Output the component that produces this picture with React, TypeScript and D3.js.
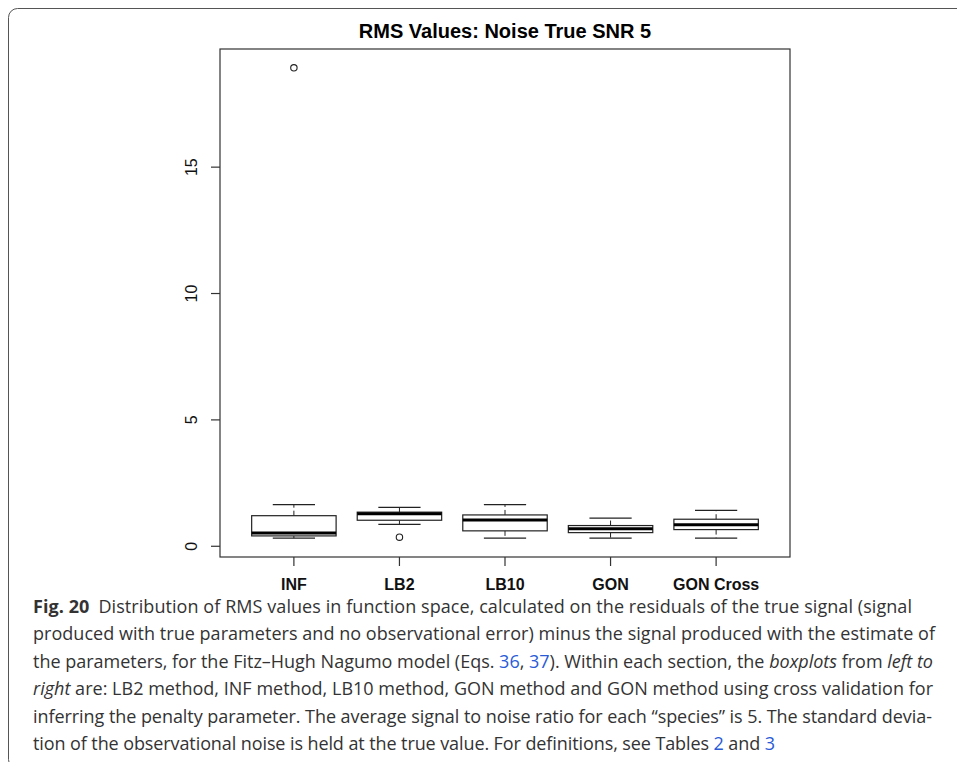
import React from "react";
import * as d3 from "d3";

const categories = ["INF", "LB2", "LB10", "GON", "GON Cross"];
const whiskerLow = [0.32, 0.87, 0.32, 0.32, 0.32];
const q1 = [0.41, 1.03, 0.61, 0.54, 0.66];
const median = [0.53, 1.29, 1.04, 0.69, 0.85];
const q3 = [1.21, 1.35, 1.24, 0.82, 1.07];
const whiskerHigh = [1.65, 1.54, 1.65, 1.11, 1.42];
const outliers = [[18.93], [0.36], [], [], []];
const yTicks = [0, 5, 10, 15];
const title = "RMS Values: Noise True SNR 5";

type Seg = { t: string; w?: "bold"; i?: boolean; link?: boolean; dx?: number };
const captionLines: Seg[][] = [
  [
    { t: "Fig. 20", w: "bold" },
    { t: "Distribution of RMS values in function space, calculated on the residuals of the true signal (signal", dx: 9 },
  ],
  [{ t: "produced with true parameters and no observational error) minus the signal produced with the estimate of" }],
  [
    { t: "the parameters, for the Fitz–Hugh Nagumo model (Eqs. " },
    { t: "36", link: true },
    { t: ", " },
    { t: "37", link: true },
    { t: "). Within each section, the " },
    { t: "boxplots", i: true },
    { t: " from " },
    { t: "left to", i: true },
  ],
  [
    { t: "right", i: true },
    { t: " are: LB2 method, INF method, LB10 method, GON method and GON method using cross validation for" },
  ],
  [{ t: "inferring the penalty parameter. The average signal to noise ratio for each \u201cspecies\u201d is 5. The standard devia-" }],
  [
    { t: "tion of the observational noise is held at the true value. For definitions, see Tables " },
    { t: "2", link: true },
    { t: " and " },
    { t: "3", link: true },
  ],
];
const captionWidths = [879, 902, 900, 900, 899, 742];

export default function App() {
  const left = 220, right = 790, top = 49, bottom = 557;
  const x = d3.scaleLinear().domain([0.3, categories.length + 0.7]).range([left, right]);
  const allVals = [...whiskerLow, ...whiskerHigh, ...outliers.flat()];
  const [mn, mx] = d3.extent(allVals) as [number, number];
  const pad = (mx - mn) * 0.04;
  const y = d3.scaleLinear().domain([mn - pad, mx + pad]).range([bottom, top]);
  const unit = x(2) - x(1);
  const bw = unit * 0.8;
  const cw = bw / 2;
  const ink = "#222";

  return (
    <svg
      width={957}
      height={762}
      style={{ position: "absolute", left: 0, top: 0, display: "block", background: "#fff" }}
    >
      <rect x={8.5} y={8.5} width={1000} height={760} rx={9} fill="none" stroke="#555" strokeWidth={1} />
      <text
        x={(left + right) / 2}
        y={38}
        textAnchor="middle"
        fontFamily="Liberation Sans, Arial, sans-serif"
        fontWeight="bold"
        fontSize={20}
        fill="#000"
      >
        {title}
      </text>
      <rect x={left} y={top} width={right - left} height={bottom - top} fill="none" stroke="#333" strokeWidth={1.2} />
      {yTicks.map((t) => (
        <g key={t}>
          <line x1={left - 9} x2={left} y1={y(t)} y2={y(t)} stroke="#333" strokeWidth={1.2} />
          <text
            transform={`translate(${197},${y(t)}) rotate(-90)`}
            textAnchor="middle"
            fontFamily="Liberation Sans, Arial, sans-serif"
            fontSize={16}
            fill="#111"
          >
            {t}
          </text>
        </g>
      ))}
      {categories.map((c, i) => {
        const cx = x(i + 1);
        return (
          <g key={c}>
            <line x1={cx} x2={cx} y1={bottom} y2={bottom + 9} stroke="#333" strokeWidth={1.2} />
            <text
              x={cx}
              y={590}
              textAnchor="middle"
              fontFamily="Liberation Sans, Arial, sans-serif"
              fontWeight="bold"
              fontSize={16}
              fill="#111"
            >
              {c}
            </text>
            <line x1={cx} x2={cx} y1={y(q3[i])} y2={y(whiskerHigh[i])} stroke={ink} strokeDasharray="5,3" />
            <line x1={cx} x2={cx} y1={y(q1[i])} y2={y(whiskerLow[i])} stroke={ink} strokeDasharray="5,3" />
            <line x1={cx - cw / 2} x2={cx + cw / 2} y1={y(whiskerHigh[i])} y2={y(whiskerHigh[i])} stroke={ink} strokeWidth={1.2} />
            <line x1={cx - cw / 2} x2={cx + cw / 2} y1={y(whiskerLow[i])} y2={y(whiskerLow[i])} stroke={ink} strokeWidth={1.2} />
            <rect
              x={cx - bw / 2}
              y={y(q3[i])}
              width={bw}
              height={y(q1[i]) - y(q3[i])}
              fill="#fff"
              stroke={ink}
              strokeWidth={1.2}
            />
            <line x1={cx - bw / 2} x2={cx + bw / 2} y1={y(median[i])} y2={y(median[i])} stroke="#000" strokeWidth={3} />
            {outliers[i].map((o, k) => (
              <circle key={k} cx={cx} cy={y(o)} r={3.2} fill="none" stroke={ink} strokeWidth={1.1} />
            ))}
          </g>
        );
      })}
      {captionLines.map((segs, li) => (
        <text
          key={li}
          x={33}
          y={613 + li * 27.4}
          fontFamily="Open Sans, Noto Sans, sans-serif"
          fontSize={18}
          fill="#333"
          textLength={captionWidths[li]}
          lengthAdjust="spacing"
        >
          {segs.map((s, k) => (
            <tspan
              key={k}
              dx={s.dx}
              fontWeight={s.w === "bold" ? "bold" : undefined}
              fontStyle={s.i ? "italic" : undefined}
              fill={s.link ? "#2a5bd7" : undefined}
            >
              {s.t}
            </tspan>
          ))}
        </text>
      ))}
    </svg>
  );
}
